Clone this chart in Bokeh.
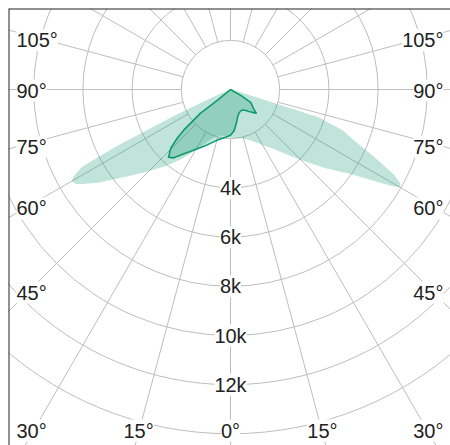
import numpy as np
from bokeh.plotting import figure
from bokeh.models import ColumnDataSource, LabelSet, Span
from bokeh.core.properties import value
from bokeh.embed import file_html
from bokeh.resources import INLINE

# ---------------- data ----------------
ring_values = [2000, 4000, 6000, 8000, 10000, 12000, 14000]
ring_label_values = [4000, 6000, 8000, 10000, 12000]
ring_labels = ["4k", "6k", "8k", "10k", "12k"]
spoke_angles = list(range(0, 360, 15))
side_label_angles = [30, 45, 60, 75, 90, 105]
bottom_label_angles = [0, 15]

# light distribution (angle in degrees, + to the right of nadir; intensity in cd)
light_angles = [-90, -72.5, -70, -67.5, -65, -63.5, -62.5, -61, -60, -58.5, -57.5, -55, -50, -45, -40,
                -35, -30, -25, -20, -15, -10, -5, 0, 5, 10, 15, 20, 25, 30, 35, 40,
                45, 50, 55, 57.5, 59, 60, 61, 62.5, 65, 67.5, 70, 72.5, 75, 77.5, 90]
light_values = [0, 20, 100, 600, 2500, 5200, 6800, 7300, 7450, 7350, 7150, 6600, 5500, 4700, 4050,
                3450, 2850, 2400, 2100, 1950, 1900, 1920, 1960, 1980, 2000, 2060, 2170,
                2350, 2600, 2900, 3400, 4050, 4950, 6000, 6900, 7600, 7950, 7900, 7500, 6400, 5450,
                4850, 3750, 400, 50, 0]

inner_angles = [-50, -50.5, -51.7, -49, -47.5, -45.5, -42.5, -40, -35, -30, -25, -20,
                -15, -10, -5, 0, 5, 10, 15, 20, 25, 30, 35, 40, 45, 47.5, 50, 55,
                57.5, 60, 62]
inner_values = [0, 680, 1550, 2520, 2950, 3400, 3730, 3630, 3150, 2800, 2550, 2320,
                2140, 2020, 1940, 1860, 1680, 1380, 1140, 1020, 970, 960, 1030, 1170,
                1330, 1420, 1230, 1040, 970, 500, 0]

# ---------------- geometry ----------------
W, H = 450, 445
BL, BT = 8, 8          # left / top border of the plot frame
FW, FH = W - BL, H - BT
PX = 0.0246            # pixels per cd
CX, CY = 222, 81       # centre in frame pixels


def px(n):
    return n / PX


def polar(angles, values):
    a = np.radians(np.asarray(angles, dtype=float))
    v = np.asarray(values, dtype=float)
    return v * np.sin(a), -v * np.cos(a)


x_start, x_end = -px(CX), px(FW - CX)
y_start, y_end = -px(FH - CY), px(CY)

p = figure(width=W, height=H, x_range=(x_start, x_end), y_range=(y_start, y_end),
           output_backend="svg", toolbar_location=None,
           min_border_left=BL, min_border_top=BT, min_border_right=0, min_border_bottom=0,
           x_axis_type=None, y_axis_type=None)
p.grid.visible = False
p.outline_line_color = None
p.background_fill_color = "white"
p.border_fill_color = "white"

GRID = "#bdbdbd"
# rings
p.circle(x=[0] * len(ring_values), y=[0] * len(ring_values), radius=ring_values,
         fill_color=None, line_color=GRID, line_width=1)
# spokes (start at the first ring)
sa = np.radians(spoke_angles)
r0, r1 = ring_values[0], 40000
p.segment(x0=r0 * np.sin(sa), y0=-r0 * np.cos(sa), x1=r1 * np.sin(sa), y1=-r1 * np.cos(sa),
          line_color=GRID, line_width=1)

# light curve
lx, ly = polar(light_angles, light_values)
p.patch(lx, ly, fill_color="#1b9e77", fill_alpha=0.28, line_color=None)

# inner curve
ix, iy = polar(inner_angles, inner_values)
p.patch(ix, iy, fill_color="#1b9e77", fill_alpha=0.28, line_color="#0d9a6e",
        line_width=1.6, line_join="round")

# frame lines (top and left)
p.add_layout(Span(location=x_start, dimension="height", line_color="#222222", line_width=2))
p.add_layout(Span(location=y_end, dimension="width", line_color="#222222", line_width=2))

FONT = value("Liberation Sans")
FS = value("20px")
TC = "#222222"

# ring labels
ring_src = ColumnDataSource(dict(x=[0] * len(ring_label_values),
                                 y=[-v for v in ring_label_values], text=ring_labels))
p.add_layout(LabelSet(x="x", y="y", text="text", source=ring_src, text_align="center",
                      text_baseline="middle", text_font=FONT, text_font_size=FS,
                      text_color=TC, background_fill_color="white"))

# bottom row position
bot_dy = px(341)

# side labels
side_dx = px(199)
side_shift = px(4)
sy = []
for a in side_label_angles:
    yy = -px(1) if a == 90 else -side_dx / np.tan(np.radians(a)) - side_shift
    sy.append(max(yy, -bot_dy))
stext = [f"{a}°" for a in side_label_angles]
left_src = ColumnDataSource(dict(x=[-px(214)] * len(sy), y=sy, text=stext))
right_src = ColumnDataSource(dict(x=[px(213)] * len(sy), y=sy, text=stext))
for src, align in ((left_src, "left"), (right_src, "right")):
    p.add_layout(LabelSet(x="x", y="y", text="text", source=src, text_align=align,
                          text_baseline="middle", text_font=FONT, text_font_size=FS,
                          text_color=TC, background_fill_color="white"))

# bottom labels
bx, by, bt = [], [], []
for a in bottom_label_angles:
    for sgn in ((-1, 1) if a else (1,)):
        bx.append(sgn * px(343) * np.tan(np.radians(a)))
        by.append(-bot_dy)
        bt.append(f"{a}°")
bot_src = ColumnDataSource(dict(x=bx, y=by, text=bt))
p.add_layout(LabelSet(x="x", y="y", text="text", source=bot_src, text_align="center",
                      text_baseline="middle", text_font=FONT, text_font_size=FS,
                      text_color=TC, background_fill_color="white"))

open("out.html", "w").write(file_html(p, INLINE))
